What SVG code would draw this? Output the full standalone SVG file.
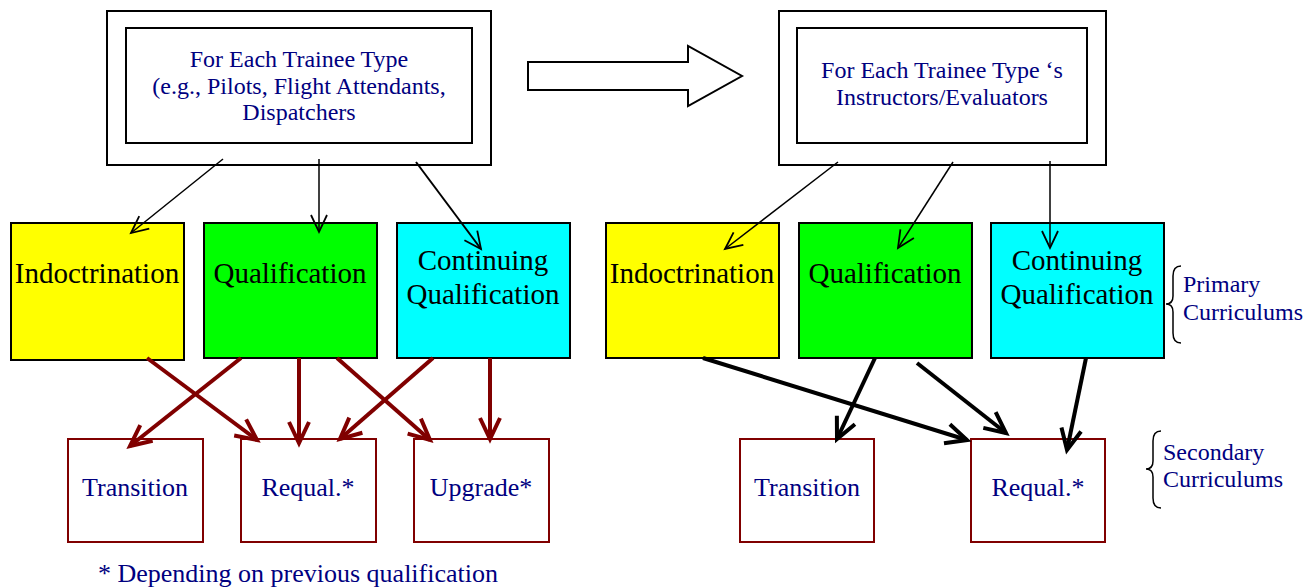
<svg xmlns="http://www.w3.org/2000/svg" width="1314" height="588" viewBox="0 0 1314 588">
<style>
  .frame { fill: #ffffff; stroke: #000000; stroke-width: 2; }
  .prim { stroke: #000000; stroke-width: 2; }
  .sec { fill: #ffffff; stroke: #800000; stroke-width: 2; }
  .t24 { font-family: "Liberation Serif", "Times New Roman", serif; font-size: 24px; fill: #000080; text-anchor: middle; }
  .t29 { font-family: "Liberation Serif", "Times New Roman", serif; font-size: 29px; fill: #000000; text-anchor: middle; }
  .t26 { font-family: "Liberation Serif", "Times New Roman", serif; font-size: 26px; fill: #000080; text-anchor: middle; }
  .lbl { font-family: "Liberation Serif", "Times New Roman", serif; font-size: 24px; fill: #000080; }
  .thin { stroke: #000000; stroke-width: 1.5; fill: none; marker-end: url(#hThin); }
  .red { stroke: #800000; stroke-width: 4; fill: none; marker-end: url(#hRed); }
  .blk { stroke: #000000; stroke-width: 4; fill: none; marker-end: url(#hBlk); }
  .brace { stroke: #000000; stroke-width: 1.5; fill: none; }
</style>
<defs>
  <marker id="hThin" markerUnits="userSpaceOnUse" viewBox="-20 -12 24 24" markerWidth="24" markerHeight="24" refX="0" refY="0" orient="auto">
    <path d="M -17 -8 L 0 0 L -17 8" fill="none" stroke="#000000" stroke-width="1.8"/>
  </marker>
  <marker id="hRed" markerUnits="userSpaceOnUse" viewBox="-26 -16 32 32" markerWidth="32" markerHeight="32" refX="0" refY="0" orient="auto">
    <path d="M -21 -10 L 0 0 L -21 10" fill="none" stroke="#800000" stroke-width="4"/>
  </marker>
  <marker id="hBlk" markerUnits="userSpaceOnUse" viewBox="-26 -16 32 32" markerWidth="32" markerHeight="32" refX="0" refY="0" orient="auto">
    <path d="M -21 -10 L 0 0 L -21 10" fill="none" stroke="#000000" stroke-width="4"/>
  </marker>
</defs>
<rect width="1314" height="588" fill="#ffffff"/>

<g id="trainee-type">
  <rect class="frame" x="107" y="11" width="384" height="154"/>
  <rect class="frame" x="126" y="28" width="346" height="115"/>
  <text class="t24" x="299" y="67">For Each Trainee Type</text>
  <text class="t24" x="299" y="94">(e.g., Pilots, Flight Attendants,</text>
  <text class="t24" x="299" y="120">Dispatchers</text>
</g>

<g id="big-arrow">
  <polygon points="528,62 688,62 688,46 742,76 688,106 688,90 528,90" fill="#ffffff" stroke="#000000" stroke-width="2"/>
</g>

<g id="instructors">
  <rect class="frame" x="779" y="11" width="327" height="154"/>
  <rect class="frame" x="797" y="28" width="290" height="115"/>
  <text class="t24" x="942" y="78">For Each Trainee Type ‘s</text>
  <text class="t24" x="942" y="105">Instructors/Evaluators</text>
</g>

<g id="indoc-left">
  <rect class="prim" x="11" y="223" width="173" height="137" fill="#ffff00"/>
  <text class="t29" x="97" y="283">Indoctrination</text>
</g>
<g id="qual-left">
  <rect class="prim" x="204" y="223" width="173" height="135" fill="#00ff00"/>
  <text class="t29" x="290" y="283">Qualification</text>
</g>
<g id="cont-left">
  <rect class="prim" x="397" y="223" width="173" height="135" fill="#00ffff"/>
  <text class="t29" x="483" y="270">Continuing</text>
  <text class="t29" x="483" y="304">Qualification</text>
</g>

<g id="indoc-right">
  <rect class="prim" x="606" y="223" width="173" height="135" fill="#ffff00"/>
  <text class="t29" x="692" y="283">Indoctrination</text>
</g>
<g id="qual-right">
  <rect class="prim" x="799" y="223" width="173" height="135" fill="#00ff00"/>
  <text class="t29" x="885" y="283">Qualification</text>
</g>
<g id="cont-right">
  <rect class="prim" x="991" y="223" width="173" height="135" fill="#00ffff"/>
  <text class="t29" x="1077" y="270">Continuing</text>
  <text class="t29" x="1077" y="304">Qualification</text>
</g>

<g id="primary-label">
  <path class="brace" d="M 1181 266 Q 1173 266 1173 276 L 1173 296 Q 1173 304 1166 304 Q 1173 304 1173 312 L 1173 333 Q 1173 343 1181 343"/>
  <text class="lbl" x="1183" y="292">Primary</text>
  <text class="lbl" x="1183" y="320">Curriculums</text>
</g>

<g id="transition-left">
  <rect class="sec" x="68" y="439" width="135" height="103"/>
  <text class="t26" x="135" y="496">Transition</text>
</g>
<g id="requal-left">
  <rect class="sec" x="241" y="439" width="135" height="103"/>
  <text class="t26" x="308" y="496">Requal.*</text>
</g>
<g id="upgrade-left">
  <rect class="sec" x="414" y="439" width="135" height="103"/>
  <text class="t26" x="481" y="496">Upgrade*</text>
</g>

<g id="transition-right">
  <rect class="sec" x="740" y="439" width="134" height="103"/>
  <text class="t26" x="807" y="496">Transition</text>
</g>
<g id="requal-right">
  <rect class="sec" x="971" y="439" width="134" height="103"/>
  <text class="t26" x="1038" y="496">Requal.*</text>
</g>

<g id="secondary-label">
  <path class="brace" d="M 1161 431 Q 1153 431 1153 441 L 1153 461 Q 1153 469 1146 469 Q 1153 469 1153 477 L 1153 498 Q 1153 508 1161 508"/>
  <text class="lbl" x="1163" y="460">Secondary</text>
  <text class="lbl" x="1163" y="487">Curriculums</text>
</g>

<g id="footnote">
  <text class="t26" x="298" y="582">* Depending on previous qualification</text>
</g>

<g id="connectors">
  <line class="thin" x1="223" y1="159" x2="131" y2="233"/>
  <line class="thin" x1="319" y1="159" x2="319" y2="232"/>
  <line class="thin" x1="416" y1="162" x2="481" y2="249" style="stroke-width:2"/>
  <line class="thin" x1="838" y1="162" x2="725" y2="249"/>
  <line class="thin" x1="953" y1="162" x2="898" y2="248"/>
  <line class="thin" x1="1050" y1="161" x2="1050" y2="248"/>

  <line class="red" x1="147" y1="358" x2="257" y2="440"/>
  <line class="red" x1="241" y1="358" x2="130" y2="446"/>
  <line class="red" x1="299" y1="358" x2="299" y2="443"/>
  <line class="red" x1="337" y1="358" x2="430" y2="440"/>
  <line class="red" x1="433" y1="358" x2="340" y2="439"/>
  <line class="red" x1="490" y1="358" x2="490" y2="439"/>

  <line class="blk" x1="703" y1="358" x2="967" y2="440"/>
  <line class="blk" x1="875" y1="358" x2="837" y2="439"/>
  <line class="blk" x1="917" y1="363" x2="1006" y2="433"/>
  <line class="blk" x1="1086" y1="358" x2="1067" y2="450"/>
</g>
</svg>
